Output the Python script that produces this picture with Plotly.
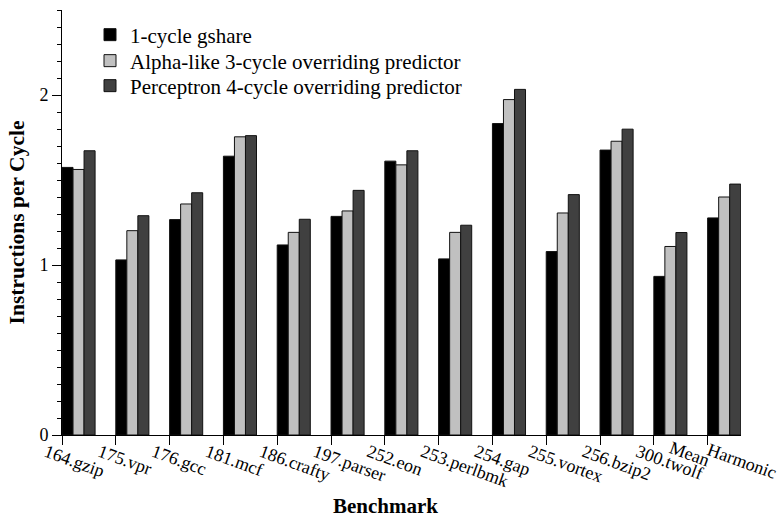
import plotly.graph_objects as go

benchmarks = ["164.gzip", "175.vpr", "176.gcc", "181.mcf", "186.crafty", "197.parser",
              "252.eon", "253.perlbmk", "254.gap", "255.vortex", "256.bzip2", "300.twolf",
              "Harmonic Mean"]
# the last category's label is drawn in two pieces, as in the reference
last_label_parts = ["Harmonic", "Mean"]

gshare = [1.574, 1.030, 1.267, 1.640, 1.118, 1.286, 1.611, 1.036, 1.832, 1.079, 1.676, 0.933, 1.277]
alpha = [1.562, 1.202, 1.359, 1.754, 1.192, 1.318, 1.589, 1.192, 1.973, 1.306, 1.728, 1.109, 1.400]
perceptron = [1.672, 1.290, 1.425, 1.761, 1.269, 1.439, 1.672, 1.234, 2.033, 1.414, 1.799, 1.191, 1.476]

series_names = ["1-cycle gshare", "Alpha-like 3-cycle overriding predictor",
                "Perceptron 4-cycle overriding predictor"]
series_values = [gshare, alpha, perceptron]
series_colors = ["#000000", "#c0c0c0", "#404040"]
legend_ids = ["legend", "legend2", "legend3"]
legend_rows_px = [35, 61, 86]

FONT = "Liberation Serif"
bw = 0.205
xs = list(range(len(benchmarks)))
ticktext = benchmarks[:-1] + [""]

PLOT_TOP, PLOT_BOTTOM, PLOT_LEFT, PLOT_RIGHT = 10, 435, 62, 741
ph = PLOT_BOTTOM - PLOT_TOP
pw = PLOT_RIGHT - PLOT_LEFT

fig = go.Figure()
for i, (name, vals, col) in enumerate(zip(series_names, series_values, series_colors)):
    fig.add_trace(go.Bar(
        x=xs, y=vals, name=name, width=bw, offset=i * bw,
        marker=dict(color=col, line=dict(color="#111111", width=1)),
        legend=legend_ids[i],
    ))

legend_common = dict(xanchor="left", yanchor="middle",
                     font=dict(family=FONT, size=21, color="black"),
                     bgcolor="rgba(0,0,0,0)", borderwidth=0)
legends = {}
for lid, row in zip(legend_ids, legend_rows_px):
    legends[lid] = dict(x=(90 - PLOT_LEFT) / pw, y=(PLOT_BOTTOM - row) / ph, **legend_common)

fig.update_layout(
    width=781, height=519,
    margin=dict(l=PLOT_LEFT, r=781 - PLOT_RIGHT, t=PLOT_TOP, b=519 - PLOT_BOTTOM, autoexpand=False),
    paper_bgcolor="white", plot_bgcolor="white",
    barmode="overlay",
    font=dict(family=FONT, size=18, color="black"),
    showlegend=True,
    **legends,
    xaxis=dict(
        range=[0, len(benchmarks) - 1 + 3 * bw + 0.005],
        tickmode="array", tickvals=xs, ticktext=ticktext,
        tickangle=20, ticks="outside", ticklen=9, tickcolor="black",
        ticklabelshift=-16, ticklabelstandoff=-10,
        showline=True, linecolor="black", linewidth=1,
        showgrid=False, zeroline=False,
        tickfont=dict(family=FONT, size=18, color="black"),
    ),
    yaxis=dict(
        range=[0, 2.5], tickmode="linear", tick0=0, dtick=1,
        ticks="outside", ticklen=9, tickcolor="black",
        minor=dict(dtick=0.1, ticks="outside", ticklen=4, tickcolor="black", showgrid=False),
        showline=True, linecolor="black", linewidth=1,
        showgrid=False, zeroline=False,
        tickfont=dict(family=FONT, size=18, color="black"),
        title=dict(text="<b>Instructions per Cycle</b>", font=dict(family=FONT, size=21.5, color="black"),
                   standoff=8),
    ),
)

fig.add_annotation(
    x=(385 - PLOT_LEFT) / pw, y=0, xref="paper", yref="paper",
    text="<b>Benchmark</b>", showarrow=False, yanchor="middle", yshift=-(506 - PLOT_BOTTOM),
    font=dict(family=FONT, size=21, color="black"),
)

for part, (dx, dy) in zip(last_label_parts, [(34, -26), (-18, -19)]):
    fig.add_annotation(
        x=len(benchmarks) - 1, y=0, xref="x", yref="y",
        text=part, showarrow=False, textangle=20,
        xshift=dx, yshift=dy,
        font=dict(family=FONT, size=18, color="black"),
    )

fig.write_html("out.html")
